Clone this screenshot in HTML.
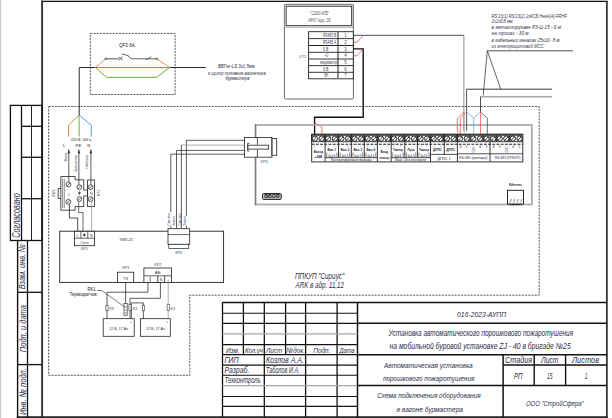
<!DOCTYPE html>
<html><head><meta charset="utf-8"><style>
html,body{margin:0;padding:0;background:#fff;width:612px;height:418px;overflow:hidden}
svg{display:block}
text{font-family:"Liberation Sans",sans-serif}
</style></head><body>
<svg width="612" height="418" viewBox="0 0 612 418">
<rect x="0" y="0" width="1.2" height="418" fill="#c8c8c8"/>
<rect x="41.2" y="0" width="566.4" height="1.05" fill="#bdbdbd"/>
<line x1="41.2" y1="1.55" x2="607.7" y2="1.55" stroke="#111" stroke-width="1.1"/>
<line x1="42.1" y1="0.5" x2="42.1" y2="418" stroke="#333" stroke-width="1.9"/>
<line x1="606.9" y1="1.2" x2="606.9" y2="418" stroke="#222" stroke-width="1.6"/>
<line x1="16.8" y1="417.1" x2="607.6" y2="417.1" stroke="#222" stroke-width="1.8"/>
<rect x="10.4" y="105.4" width="31.7" height="135.1" fill="none" stroke="#111" stroke-width="1.3"/>
<line x1="21.5" y1="105.4" x2="21.5" y2="240.5" stroke="#111" stroke-width="1.3"/>
<line x1="31.5" y1="105.4" x2="31.5" y2="240.5" stroke="#222" stroke-width="1.0"/>
<line x1="21.5" y1="126.3" x2="42.1" y2="126.3" stroke="#111" stroke-width="1.3"/>
<line x1="21.5" y1="157.3" x2="42.1" y2="157.3" stroke="#111" stroke-width="1.3"/>
<line x1="21.5" y1="198.7" x2="42.1" y2="198.7" stroke="#111" stroke-width="1.3"/>
<text x="20.2" y="237.7" font-size="10.2" text-anchor="start" fill="#2a2a46" style="font-style:italic;" transform="rotate(-90 20.2 237.7)" textLength="44.5" lengthAdjust="spacingAndGlyphs">Согласовано</text>
<line x1="17.6" y1="292.3" x2="42.1" y2="292.3" stroke="#111" stroke-width="1.3"/>
<line x1="17.6" y1="364.6" x2="42.1" y2="364.6" stroke="#111" stroke-width="1.3"/>
<line x1="17.6" y1="240.5" x2="17.6" y2="418" stroke="#111" stroke-width="1.4"/>
<line x1="27.5" y1="240.5" x2="27.5" y2="418" stroke="#111" stroke-width="1.3"/>
<text x="25.5" y="289.3" font-size="9.6" text-anchor="start" fill="#2a2a46" style="font-style:italic;" transform="rotate(-90 25.5 289.3)" textLength="45.3" lengthAdjust="spacingAndGlyphs">Взам. инв. №</text>
<text x="25.6" y="352.2" font-size="9.6" text-anchor="start" fill="#2a2a46" style="font-style:italic;" transform="rotate(-90 25.6 352.2)" textLength="47.2" lengthAdjust="spacingAndGlyphs">Подп. и дата</text>
<text x="25.6" y="415" font-size="9.6" text-anchor="start" fill="#2a2a46" style="font-style:italic;" transform="rotate(-90 25.6 415)" textLength="47" lengthAdjust="spacingAndGlyphs">Инв. № подл.</text>
<line x1="222.5" y1="302.5" x2="222.5" y2="417" stroke="#111" stroke-width="1.3"/>
<line x1="264.3" y1="302.5" x2="264.3" y2="417" stroke="#111" stroke-width="1.3"/>
<line x1="305.6" y1="302.5" x2="305.6" y2="417" stroke="#111" stroke-width="1.3"/>
<line x1="337.1" y1="302.5" x2="337.1" y2="417" stroke="#111" stroke-width="1.3"/>
<line x1="243.4" y1="302.5" x2="243.4" y2="354.6" stroke="#111" stroke-width="1.3"/>
<line x1="285.6" y1="302.5" x2="285.6" y2="354.6" stroke="#111" stroke-width="1.3"/>
<line x1="357.5" y1="302.5" x2="357.5" y2="417" stroke="#111" stroke-width="1.5"/>
<line x1="222.5" y1="302.6" x2="606.8" y2="302.6" stroke="#111" stroke-width="1.5"/>
<line x1="222.5" y1="313.2" x2="357.5" y2="313.2" stroke="#111" stroke-width="1.1"/>
<line x1="222.5" y1="323.4" x2="357.5" y2="323.4" stroke="#111" stroke-width="1.1"/>
<line x1="222.5" y1="344.6" x2="357.5" y2="344.6" stroke="#111" stroke-width="1.3"/>
<line x1="222.5" y1="354.6" x2="357.5" y2="354.6" stroke="#111" stroke-width="1.3"/>
<line x1="222.5" y1="365.1" x2="357.5" y2="365.1" stroke="#111" stroke-width="1.1"/>
<line x1="222.5" y1="375.3" x2="357.5" y2="375.3" stroke="#111" stroke-width="1.1"/>
<line x1="222.5" y1="396.5" x2="357.5" y2="396.5" stroke="#111" stroke-width="1.1"/>
<line x1="222.5" y1="406.4" x2="357.5" y2="406.4" stroke="#111" stroke-width="1.1"/>
<line x1="222.5" y1="333.9" x2="357.5" y2="333.9" stroke="#a8a8a8" stroke-width="1.4"/>
<line x1="222.5" y1="385.6" x2="357.5" y2="385.6" stroke="#a8a8a8" stroke-width="1.4"/>
<line x1="357.5" y1="323.2" x2="606.8" y2="323.2" stroke="#111" stroke-width="1.5"/>
<line x1="357.5" y1="354.7" x2="606.8" y2="354.7" stroke="#111" stroke-width="1.5"/>
<line x1="357.5" y1="385.4" x2="606.8" y2="385.4" stroke="#111" stroke-width="1.5"/>
<line x1="503.1" y1="354.7" x2="503.1" y2="417" stroke="#111" stroke-width="1.5"/>
<line x1="503.1" y1="365.0" x2="606.8" y2="365.0" stroke="#111" stroke-width="1.3"/>
<line x1="534.2" y1="354.7" x2="534.2" y2="385.4" stroke="#111" stroke-width="1.4"/>
<line x1="565.6" y1="354.7" x2="565.6" y2="385.4" stroke="#111" stroke-width="1.4"/>
<text x="226" y="352.9" font-size="8" text-anchor="start" fill="#2a2a46" style="font-style:italic;" textLength="13.7" lengthAdjust="spacingAndGlyphs">Изм.</text>
<text x="244.9" y="352.9" font-size="8" text-anchor="start" fill="#2a2a46" style="font-style:italic;" textLength="17.9" lengthAdjust="spacingAndGlyphs">Кол.уч</text>
<text x="266" y="352.9" font-size="8" text-anchor="start" fill="#2a2a46" style="font-style:italic;" textLength="16.2" lengthAdjust="spacingAndGlyphs">Лист</text>
<text x="286.5" y="352.9" font-size="8" text-anchor="start" fill="#2a2a46" style="font-style:italic;" textLength="18.3" lengthAdjust="spacingAndGlyphs">№док.</text>
<text x="313.3" y="352.9" font-size="8" text-anchor="start" fill="#2a2a46" style="font-style:italic;" textLength="17" lengthAdjust="spacingAndGlyphs">Подп.</text>
<text x="339.5" y="352.9" font-size="8" text-anchor="start" fill="#2a2a46" style="font-style:italic;" textLength="15" lengthAdjust="spacingAndGlyphs">Дата</text>
<text x="224.5" y="362.7" font-size="8.8" text-anchor="start" fill="#2a2a46" style="font-style:italic;" textLength="14" lengthAdjust="spacingAndGlyphs">ГИП</text>
<text x="224.5" y="372.9" font-size="8.8" text-anchor="start" fill="#2a2a46" style="font-style:italic;" textLength="24.8" lengthAdjust="spacingAndGlyphs">Разраб.</text>
<text x="224.8" y="382.8" font-size="8.8" text-anchor="start" fill="#2a2a46" style="font-style:italic;" textLength="35.9" lengthAdjust="spacingAndGlyphs">Техконтроль</text>
<text x="266" y="362.7" font-size="8.8" text-anchor="start" fill="#2a2a46" style="font-style:italic;" textLength="38" lengthAdjust="spacingAndGlyphs">Козлов  А.А.</text>
<text x="266" y="372.9" font-size="8.8" text-anchor="start" fill="#2a2a46" style="font-style:italic;" textLength="33.6" lengthAdjust="spacingAndGlyphs">Таболов И.А.</text>
<text x="457.1" y="316.8" font-size="7.4" text-anchor="start" fill="#2a2a46" style="font-style:italic;" textLength="49" lengthAdjust="spacingAndGlyphs">016-2023-АУПП</text>
<text x="388.5" y="336" font-size="8.8" text-anchor="start" fill="#2a2a46" style="font-style:italic;" textLength="184.6" lengthAdjust="spacingAndGlyphs">Установка автоматического порошкового пожаротушения</text>
<text x="389.5" y="349.4" font-size="8.8" text-anchor="start" fill="#2a2a46" style="font-style:italic;" textLength="181.2" lengthAdjust="spacingAndGlyphs">на мобильной буровой  установке ZJ - 40 в бригаде №25</text>
<text x="384" y="367.6" font-size="7.6" text-anchor="start" fill="#2a2a46" style="font-style:italic;" textLength="88.6" lengthAdjust="spacingAndGlyphs">Автоматическая установка</text>
<text x="382.9" y="380.6" font-size="7.6" text-anchor="start" fill="#2a2a46" style="font-style:italic;" textLength="91.5" lengthAdjust="spacingAndGlyphs">порошкового пожаротушения</text>
<text x="377.2" y="398" font-size="7.6" text-anchor="start" fill="#2a2a46" style="font-style:italic;" textLength="103.6" lengthAdjust="spacingAndGlyphs">Схема подключения оборудования</text>
<text x="396.6" y="411.8" font-size="7.6" text-anchor="start" fill="#2a2a46" style="font-style:italic;" textLength="66.4" lengthAdjust="spacingAndGlyphs">в вагоне бурмастера</text>
<text x="505" y="362.8" font-size="8.7" text-anchor="start" fill="#2a2a46" style="font-style:italic;" textLength="27" lengthAdjust="spacingAndGlyphs">Стадия</text>
<text x="541" y="362.8" font-size="8.7" text-anchor="start" fill="#2a2a46" style="font-style:italic;" textLength="17.5" lengthAdjust="spacingAndGlyphs">Лист</text>
<text x="572" y="362.8" font-size="8.7" text-anchor="start" fill="#2a2a46" style="font-style:italic;" textLength="27" lengthAdjust="spacingAndGlyphs">Листов</text>
<text x="514" y="378.9" font-size="8.4" text-anchor="start" fill="#2a2a46" style="font-style:italic;" textLength="8.5" lengthAdjust="spacingAndGlyphs">РП</text>
<text x="547" y="378.9" font-size="8.4" text-anchor="start" fill="#2a2a46" style="font-style:italic;" textLength="5.5" lengthAdjust="spacingAndGlyphs">15</text>
<text x="585" y="378.9" font-size="8.4" text-anchor="start" fill="#2a2a46" style="font-style:italic;" textLength="2.5" lengthAdjust="spacingAndGlyphs">1</text>
<text x="526" y="405.6" font-size="7.6" text-anchor="start" fill="#2a2a46" style="font-style:italic;" textLength="57.6" lengthAdjust="spacingAndGlyphs">ООО "СтройСфера"</text>
<polyline points="48.7,106.5 539.2,106.5 539.2,295.2 189.8,295.2 189.8,375.3 48.7,375.3 48.7,106.5" fill="none" stroke="#333" stroke-width="0.8" stroke-dasharray="2.2,1.0"/>
<rect x="90.3" y="33.4" width="84.8" height="61.1" fill="none" stroke="#333" stroke-width="0.8" stroke-dasharray="2.2,1.0"/>
<polyline points="79.2,115.1 79.2,67.5 95.4,67.5" fill="none" stroke="#111" stroke-width="0.9"/>
<line x1="169.5" y1="67.5" x2="205.9" y2="67.5" stroke="#111" stroke-width="0.9"/>
<line x1="95.4" y1="67.5" x2="169.5" y2="67.5" stroke="#4aa0ea" stroke-width="1.0"/>
<polyline points="95.4,67.5 106.5,77.3 156.7,77.3 169.5,67.5" fill="none" stroke="#6aae3c" stroke-width="1.0"/>
<line x1="95.4" y1="67.5" x2="105.7" y2="58.8" stroke="#d98a4a" stroke-width="0.9"/>
<line x1="156.9" y1="58.8" x2="169.5" y2="67.5" stroke="#d98a4a" stroke-width="0.9"/>
<line x1="105.7" y1="58.8" x2="118.6" y2="58.8" stroke="#222" stroke-width="0.8"/>
<circle cx="105.7" cy="58.8" r="0.9" fill="#fff" stroke="#222" stroke-width="0.6"/>
<circle cx="156.9" cy="58.8" r="0.9" fill="#fff" stroke="#222" stroke-width="0.6"/>
<line x1="118.5" y1="56.9" x2="122.6" y2="60.3" stroke="#222" stroke-width="0.7"/>
<line x1="118.5" y1="60.3" x2="122.6" y2="56.9" stroke="#222" stroke-width="0.7"/>
<polyline points="121.6,53.7 123,54.9 124.6,53.9 126,55.7 127.6,55.0 129.2,57.3 131.9,58.8 156,58.8" fill="none" stroke="#222" stroke-width="0.7"/>
<line x1="145.8" y1="59.8" x2="151.4" y2="56.7" stroke="#222" stroke-width="0.6"/>
<text x="119" y="47.2" font-size="5.8" text-anchor="start" fill="#222" style="" textLength="15.8" lengthAdjust="spacingAndGlyphs">QF3 6A</text>
<text x="218" y="67.6" font-size="5" text-anchor="start" fill="#2a2a46" style="font-style:italic;" textLength="36.7" lengthAdjust="spacingAndGlyphs">ВВГнг-LS 3х1,5мм</text>
<text x="208" y="74.6" font-size="5" text-anchor="start" fill="#2a2a46" style="font-style:italic;" textLength="57.7" lengthAdjust="spacingAndGlyphs">к щиту питания вагончика</text>
<text x="225.5" y="80.3" font-size="5" text-anchor="start" fill="#2a2a46" style="font-style:italic;" textLength="24" lengthAdjust="spacingAndGlyphs">бурмастера</text>
<polyline points="79.1,115.1 68.6,125.2 68.6,136.7" fill="none" stroke="#d98a4a" stroke-width="1.0"/>
<line x1="79.1" y1="115.1" x2="79.1" y2="136.7" stroke="#6aae3c" stroke-width="1.0"/>
<polyline points="79.1,115.1 91.3,125.2 91.3,136.7" fill="none" stroke="#4aa0ea" stroke-width="1.0"/>
<text x="70.7" y="140.8" font-size="4.2" text-anchor="start" fill="#222" style="" textLength="20.4" lengthAdjust="spacingAndGlyphs">220 В, 50Гц</text>
<text x="62.9" y="146.8" font-size="4.2" text-anchor="start" fill="#222" style="">L</text>
<text x="75.6" y="146.8" font-size="4.2" text-anchor="start" fill="#222" style="">PE</text>
<text x="87.3" y="146.8" font-size="4.2" text-anchor="start" fill="#222" style="">N</text>
<polygon points="67.89999999999999,153.2 68.8,149.2 69.7,153.2" fill="#111" stroke="#111" stroke-width="0.3"/>
<polygon points="78.0,153.2 78.9,149.2 79.80000000000001,153.2" fill="#111" stroke="#111" stroke-width="0.3"/>
<polygon points="90.0,153.2 90.9,149.2 91.80000000000001,153.2" fill="#111" stroke="#111" stroke-width="0.3"/>
<line x1="68.8" y1="152" x2="68.8" y2="182" stroke="#333" stroke-width="0.8"/>
<line x1="78.9" y1="152" x2="78.9" y2="184.8" stroke="#333" stroke-width="0.8"/>
<line x1="90.9" y1="152" x2="90.9" y2="184.8" stroke="#333" stroke-width="0.8"/>
<text x="67.2" y="161.5" font-size="3.6" text-anchor="start" fill="#333" style="" transform="rotate(-90 67.2 161.5)" textLength="8.5" lengthAdjust="spacingAndGlyphs">Фаза</text>
<text x="76.6" y="172" font-size="3.6" text-anchor="start" fill="#333" style="" transform="rotate(-90 76.6 172)" textLength="17" lengthAdjust="spacingAndGlyphs">Заземление</text>
<text x="88.2" y="168.5" font-size="3.6" text-anchor="start" fill="#333" style="" transform="rotate(-90 88.2 168.5)" textLength="13.5" lengthAdjust="spacingAndGlyphs">Нейтраль</text>
<polygon points="60.8,176.5 75.1,176.5 75.1,179.8 83.7,179.8 83.7,190 87.6,190 87.6,196 83.7,196 83.7,206.6 75.1,206.6 75.1,210.2 60.8,210.2" fill="none" stroke="#222" stroke-width="0.8"/>
<polyline points="60.8,188.5 58.2,188.5 58.2,198.5 60.8,198.5" fill="none" stroke="#222" stroke-width="0.8"/>
<line x1="62.6" y1="178.6" x2="62.6" y2="208" stroke="#444" stroke-width="0.6"/>
<line x1="64.3" y1="178.6" x2="64.3" y2="208" stroke="#444" stroke-width="0.6"/>
<rect x="87.6" y="180" width="6.9" height="26.6" fill="none" stroke="#222" stroke-width="0.8"/>
<circle cx="68.4" cy="184.4" r="2.4" fill="#fff" stroke="#222" stroke-width="0.75"/>
<line x1="66.91" y1="185.89" x2="69.89" y2="182.91" stroke="#222" stroke-width="0.75"/>
<circle cx="68.4" cy="201.8" r="2.4" fill="#fff" stroke="#222" stroke-width="0.75"/>
<line x1="66.91" y1="203.29" x2="69.89" y2="200.31" stroke="#222" stroke-width="0.75"/>
<circle cx="79.4" cy="187.2" r="2.4" fill="#fff" stroke="#222" stroke-width="0.75"/>
<line x1="77.91" y1="188.69" x2="80.89" y2="185.71" stroke="#222" stroke-width="0.75"/>
<circle cx="79.4" cy="199.1" r="2.4" fill="#fff" stroke="#222" stroke-width="0.75"/>
<line x1="77.91" y1="200.59" x2="80.89" y2="197.61" stroke="#222" stroke-width="0.75"/>
<circle cx="90.6" cy="187.2" r="2.4" fill="#fff" stroke="#222" stroke-width="0.75"/>
<line x1="89.11" y1="188.69" x2="92.09" y2="185.71" stroke="#222" stroke-width="0.75"/>
<circle cx="90.6" cy="199.1" r="2.4" fill="#fff" stroke="#222" stroke-width="0.75"/>
<line x1="89.11" y1="200.59" x2="92.09" y2="197.61" stroke="#222" stroke-width="0.75"/>
<polygon points="78.2,192.6 80.6,192.6 79.4,194.6" fill="#333" stroke="#333" stroke-width="0.4"/>
<line x1="79.4" y1="191.2" x2="79.4" y2="192.6" stroke="#333" stroke-width="0.6"/>
<text x="68.3" y="195.5" font-size="3.6" text-anchor="start" fill="#333" style="">L</text>
<text x="89.9" y="194.5" font-size="3.6" text-anchor="start" fill="#333" style="">N</text>
<text x="54.8" y="196.5" font-size="4" text-anchor="start" fill="#334" style="" transform="rotate(-90 54.8 196.5)" textLength="7" lengthAdjust="spacingAndGlyphs">FU1</text>
<text x="99.5" y="196.5" font-size="4" text-anchor="start" fill="#334" style="" transform="rotate(-90 99.5 196.5)" textLength="7" lengthAdjust="spacingAndGlyphs">XT1</text>
<polyline points="69.4,204.4 69.4,218 77.7,218 77.7,231.3" fill="none" stroke="#222" stroke-width="0.8"/>
<polyline points="78.7,201.5 78.7,212.6 83,212.6 83,231.3" fill="none" stroke="#444" stroke-width="0.8"/>
<line x1="91.6" y1="201.5" x2="91.6" y2="231.3" stroke="#9a9a9a" stroke-width="0.8"/>
<rect x="59.7" y="231.2" width="163.9" height="51.2" fill="none" stroke="#222" stroke-width="0.9"/>
<rect x="74.4" y="231.3" width="20.1" height="14.4" fill="#fff" stroke="#222" stroke-width="0.8"/>
<line x1="74.4" y1="238.2" x2="94.5" y2="238.2" stroke="#222" stroke-width="0.7"/>
<line x1="80.9" y1="231.3" x2="80.9" y2="238.2" stroke="#222" stroke-width="0.7"/>
<line x1="87.8" y1="231.3" x2="87.8" y2="238.2" stroke="#222" stroke-width="0.7"/>
<text x="77.6" y="237" font-size="3.6" text-anchor="middle" fill="#333" style="">L</text>
<circle cx="84.4" cy="235" r="1.2" fill="#333"/>
<text x="91.2" y="237" font-size="3.6" text-anchor="middle" fill="#333" style="">N</text>
<text x="84.4" y="243.6" font-size="3.8" text-anchor="middle" fill="#333" style="">Сеть</text>
<text x="84.4" y="250.3" font-size="3.8" text-anchor="middle" fill="#345" style="">XP1</text>
<text x="119" y="240.6" font-size="4.2" text-anchor="start" fill="#333" style="" textLength="14.5" lengthAdjust="spacingAndGlyphs">"КМП-24"</text>
<rect x="168" y="228.7" width="21.7" height="15.6" fill="#fff" stroke="#222" stroke-width="0.8"/>
<line x1="168" y1="234.6" x2="189.7" y2="234.6" stroke="#222" stroke-width="0.7"/>
<rect x="168.8" y="244.3" width="19.9" height="4.2" fill="#fff" stroke="#222" stroke-width="0.7"/>
<text x="178.6" y="254" font-size="3.8" text-anchor="middle" fill="#345" style="">XP5</text>
<line x1="186.4" y1="140.3" x2="245" y2="140.3" stroke="#333" stroke-width="0.8"/>
<line x1="186.4" y1="140.3" x2="186.4" y2="216" stroke="#333" stroke-width="0.8"/>
<line x1="186.4" y1="226" x2="186.4" y2="228.7" stroke="#333" stroke-width="0.8"/>
<line x1="181.4" y1="145.1" x2="245" y2="145.1" stroke="#9a9a9a" stroke-width="0.8"/>
<line x1="181.4" y1="145.1" x2="181.4" y2="228.7" stroke="#333" stroke-width="0.8"/>
<line x1="176.5" y1="150.4" x2="245" y2="150.4" stroke="#333" stroke-width="0.8"/>
<line x1="176.5" y1="150.4" x2="176.5" y2="228.7" stroke="#333" stroke-width="0.8"/>
<line x1="170.8" y1="154.2" x2="245" y2="154.2" stroke="#333" stroke-width="0.8"/>
<line x1="170.8" y1="154.2" x2="170.8" y2="212.2" stroke="#333" stroke-width="0.8"/>
<line x1="170.8" y1="226" x2="170.8" y2="228.7" stroke="#333" stroke-width="0.8"/>
<text x="170" y="226" font-size="3.4" text-anchor="start" fill="#345" style="" transform="rotate(-90 170 226)" textLength="13" lengthAdjust="spacingAndGlyphs">Сигнал</text>
<text x="175.3" y="226" font-size="3.4" text-anchor="start" fill="#345" style="" transform="rotate(-90 175.3 226)" textLength="10" lengthAdjust="spacingAndGlyphs">Земля</text>
<text x="180.6" y="226" font-size="3.4" text-anchor="start" fill="#345" style="" transform="rotate(-90 180.6 226)" textLength="13" lengthAdjust="spacingAndGlyphs">Сигнал</text>
<text x="185.8" y="226" font-size="3.4" text-anchor="start" fill="#345" style="" transform="rotate(-90 185.8 226)" textLength="10" lengthAdjust="spacingAndGlyphs">Земля</text>
<rect x="117.4" y="272.2" width="16.3" height="10.2" fill="#fff" stroke="#222" stroke-width="0.8"/>
<text x="125.5" y="279.6" font-size="4.4" text-anchor="middle" fill="#333" style="">T3</text>
<text x="125.5" y="269.3" font-size="3.8" text-anchor="middle" fill="#345" style="">XP3</text>
<rect x="143.9" y="268" width="27.6" height="14.4" fill="#fff" stroke="#222" stroke-width="0.8"/>
<line x1="143.9" y1="275.8" x2="171.5" y2="275.8" stroke="#555" stroke-width="0.9"/>
<line x1="150.3" y1="275.8" x2="150.3" y2="282.4" stroke="#999" stroke-width="1.2"/>
<line x1="157.8" y1="275.8" x2="157.8" y2="282.4" stroke="#222" stroke-width="0.8"/>
<line x1="164.6" y1="275.8" x2="164.6" y2="282.4" stroke="#222" stroke-width="0.8"/>
<text x="157.7" y="274.2" font-size="4.4" text-anchor="middle" fill="#333" style="">АБ</text>
<text x="157.7" y="265.8" font-size="3.8" text-anchor="middle" fill="#345" style="">XP2</text>
<text x="147.3" y="280.6" font-size="3.8" text-anchor="middle" fill="#333" style="">-</text>
<text x="161.2" y="280.6" font-size="4" text-anchor="middle" fill="#333" style="">Б</text>
<text x="168.1" y="280.6" font-size="4" text-anchor="middle" fill="#333" style="">+</text>
<polyline points="147.9,282.4 147.9,292.2 107,292.2 107,318.7" fill="none" stroke="#333" stroke-width="0.8"/>
<polyline points="160.4,282.4 160.4,298.3 130,298.3 130,318.7" fill="none" stroke="#333" stroke-width="0.8"/>
<polyline points="131.3,318.7 131.3,302.9 143.4,302.9 143.4,318.7" fill="none" stroke="#333" stroke-width="0.8"/>
<line x1="168.2" y1="282.4" x2="168.2" y2="318.7" stroke="#9a9a9a" stroke-width="0.8"/>
<line x1="125.6" y1="282.4" x2="125.6" y2="303.5" stroke="#333" stroke-width="0.8"/>
<rect x="105.9" y="305.2" width="2.2" height="5.6" fill="#fff" stroke="#333" stroke-width="0.6"/>
<rect x="128.9" y="304.7" width="2.2" height="5.6" fill="#fff" stroke="#333" stroke-width="0.6"/>
<rect x="142.3" y="305.2" width="2.2" height="5.6" fill="#fff" stroke="#333" stroke-width="0.6"/>
<rect x="167.1" y="304.7" width="2.2" height="5.6" fill="#fff" stroke="#333" stroke-width="0.6"/>
<text x="109.2" y="309.8" font-size="3.8" text-anchor="start" fill="#333" style="">X3</text>
<text x="132.6" y="309.8" font-size="3.8" text-anchor="start" fill="#333" style="">X2</text>
<text x="170.6" y="309.8" font-size="3.8" text-anchor="start" fill="#333" style="">X1</text>
<rect x="124" y="303.5" width="3.2" height="11.8" fill="#fff" stroke="#333" stroke-width="0.7"/>
<line x1="124.5" y1="307" x2="126.7" y2="307" stroke="#333" stroke-width="0.6"/>
<line x1="124.5" y1="310" x2="126.7" y2="310" stroke="#333" stroke-width="0.6"/>
<line x1="124.5" y1="313" x2="126.7" y2="313" stroke="#333" stroke-width="0.6"/>
<polyline points="97.2,290.5 101.7,290.5 124.4,306.8" fill="none" stroke="#222" stroke-width="0.6"/>
<text x="95.5" y="291.4" font-size="5.8" text-anchor="end" fill="#222" style="" textLength="8.1" lengthAdjust="spacingAndGlyphs">RK1</text>
<text x="96.8" y="296.3" font-size="5.8" text-anchor="end" fill="#222" style="" textLength="27.4" lengthAdjust="spacingAndGlyphs">Термодатчик</text>
<rect x="103.2" y="318.7" width="31.0" height="17.6" fill="#fff" stroke="#222" stroke-width="0.8"/>
<text x="118.69999999999999" y="329.5" font-size="4" text-anchor="middle" fill="#333" style="" textLength="19" lengthAdjust="spacingAndGlyphs">12 В, 17 Ач</text>
<text x="106.7" y="322.8" font-size="3.6" text-anchor="middle" fill="#333" style="">-</text>
<text x="131.0" y="322.8" font-size="3.6" text-anchor="middle" fill="#333" style="">+</text>
<rect x="140.5" y="318.7" width="29.8" height="17.6" fill="#fff" stroke="#222" stroke-width="0.8"/>
<text x="155.4" y="329.5" font-size="4" text-anchor="middle" fill="#333" style="" textLength="19" lengthAdjust="spacingAndGlyphs">12 В, 17 Ач</text>
<text x="144.0" y="322.8" font-size="3.6" text-anchor="middle" fill="#333" style="">-</text>
<text x="167.10000000000002" y="322.8" font-size="3.6" text-anchor="middle" fill="#333" style="">+</text>
<rect x="284.4" y="4.4" width="69.0" height="94.6" fill="none" stroke="#555" stroke-width="0.9" rx="1.5"/>
<rect x="284.6" y="4.7" width="68.5" height="22.5" fill="#d4d4d4" stroke="#777" stroke-width="0.5"/>
<rect x="286.2" y="6.3" width="65.4" height="19.1" fill="#fff" stroke="#333" stroke-width="0.8"/>
<text x="319.6" y="14.8" font-size="6" text-anchor="middle" fill="#555" style="" textLength="19" lengthAdjust="spacingAndGlyphs">"С2000-КПБ"</text>
<text x="319.2" y="21.7" font-size="6" text-anchor="middle" fill="#555" style="" textLength="22" lengthAdjust="spacingAndGlyphs">АРК7 адр. 18</text>
<rect x="308.6" y="31.7" width="44.7" height="47.1" fill="#fff" stroke="#222" stroke-width="0.9"/>
<line x1="338" y1="31.7" x2="338" y2="78.8" stroke="#777" stroke-width="1.6"/>
<line x1="308.6" y1="38.6" x2="353.3" y2="38.6" stroke="#222" stroke-width="0.9"/>
<line x1="308.6" y1="45.5" x2="353.3" y2="45.5" stroke="#222" stroke-width="1.2"/>
<line x1="308.6" y1="52.3" x2="353.3" y2="52.3" stroke="#222" stroke-width="0.9"/>
<line x1="308.6" y1="59.0" x2="353.3" y2="59.0" stroke="#222" stroke-width="0.9"/>
<line x1="308.6" y1="65.6" x2="353.3" y2="65.6" stroke="#222" stroke-width="0.9"/>
<line x1="308.6" y1="72.3" x2="353.3" y2="72.3" stroke="#222" stroke-width="0.9"/>
<text x="322.9" y="36.7" font-size="4.5" text-anchor="start" fill="#3a3a55" style="" textLength="13.3" lengthAdjust="spacingAndGlyphs">RS485 B</text>
<text x="345.4" y="36.7" font-size="4.5" text-anchor="middle" fill="#555" style="">1</text>
<text x="322.9" y="43.6" font-size="4.5" text-anchor="start" fill="#3a3a55" style="" textLength="13.3" lengthAdjust="spacingAndGlyphs">RS485 A</text>
<text x="345.4" y="43.6" font-size="4.5" text-anchor="middle" fill="#555" style="">2</text>
<text x="322.9" y="50.5" font-size="4.5" text-anchor="start" fill="#3a3a55" style="" textLength="5.4" lengthAdjust="spacingAndGlyphs">0 В</text>
<text x="345.4" y="50.5" font-size="4.5" text-anchor="middle" fill="#555" style="">3</text>
<text x="324.7" y="57.3" font-size="4.5" text-anchor="start" fill="#3a3a55" style="" textLength="3.6" lengthAdjust="spacingAndGlyphs">+U</text>
<text x="345.4" y="57.3" font-size="4.5" text-anchor="middle" fill="#555" style="">4</text>
<text x="320" y="64.0" font-size="4.5" text-anchor="start" fill="#3a3a55" style="" textLength="17.5" lengthAdjust="spacingAndGlyphs">индикатор</text>
<text x="345.4" y="64.0" font-size="4.5" text-anchor="middle" fill="#555" style="">5</text>
<text x="322.9" y="70.6" font-size="4.5" text-anchor="start" fill="#3a3a55" style="" textLength="5.4" lengthAdjust="spacingAndGlyphs">0 В</text>
<text x="345.4" y="70.6" font-size="4.5" text-anchor="middle" fill="#555" style="">6</text>
<text x="324.5" y="77.3" font-size="4.5" text-anchor="start" fill="#3a3a55" style="" textLength="3.8" lengthAdjust="spacingAndGlyphs">ВН</text>
<text x="345.4" y="77.3" font-size="4.5" text-anchor="middle" fill="#555" style="">7</text>
<text x="299" y="57.5" font-size="4" text-anchor="start" fill="#35609a" style="">ХТ1</text>
<line x1="353.3" y1="35.3" x2="464" y2="35.3" stroke="#222" stroke-width="0.8"/>
<line x1="463.9" y1="35.3" x2="463.9" y2="131" stroke="#808080" stroke-width="0.9"/>
<polyline points="353.3,42.2 357,42.2 363.4,35.3" fill="none" stroke="#ee3b3b" stroke-width="0.7"/>
<polyline points="353.3,48.9 363.2,48.9 363.2,117.2 314.6,117.2 314.6,134.2" fill="none" stroke="#111" stroke-width="1.4"/>
<polyline points="353.3,55.8 357,55.8 363.2,48.9" fill="none" stroke="#ee3b3b" stroke-width="0.7"/>
<polyline points="314.6,123 321.9,127 321.9,134.2" fill="none" stroke="#ee3b3b" stroke-width="0.7"/>
<rect x="255.6" y="125" width="276.2" height="79.5" fill="none" stroke="#a8a8a8" stroke-width="1.7"/>
<line x1="255.5" y1="124.2" x2="255.5" y2="205.2" stroke="#7a7a7a" stroke-width="1.2"/>
<rect x="244.5" y="137.4" width="27.4" height="19.8" fill="#fff" stroke="#222" stroke-width="0.8"/>
<line x1="257.4" y1="137.4" x2="257.4" y2="144.8" stroke="#222" stroke-width="0.8"/>
<line x1="257.4" y1="149.5" x2="257.4" y2="157.2" stroke="#222" stroke-width="0.8"/>
<rect x="271.9" y="138.4" width="4.8" height="16.9" fill="#fff" stroke="#222" stroke-width="0.8"/>
<line x1="272.5" y1="138.4" x2="272.5" y2="155.3" stroke="#666" stroke-width="0.6"/>
<rect x="247.9" y="145.2" width="20.7" height="3.9" fill="#fff" stroke="#222" stroke-width="0.8"/>
<polyline points="249.5,143.3 247.6,143.3 247.6,151 249.5,151" fill="none" stroke="#333" stroke-width="0.8"/>
<text x="264" y="162.7" font-size="3.9" text-anchor="middle" fill="#35507a" style="">XP3</text>
<rect x="262.5" y="193.6" width="18.8" height="5.8" fill="#c8c8c8" stroke="#1a1a1a" stroke-width="1.0" rx="1"/>
<text x="271.9" y="198.3" font-size="4.6" text-anchor="middle" fill="#111" style="font-weight:bold;" textLength="15.5" lengthAdjust="spacingAndGlyphs">ВБОЯ</text>
<rect x="507.5" y="190.3" width="16.0" height="13.7" fill="#fff" stroke="#111" stroke-width="0.9"/>
<text x="515.5" y="186.3" font-size="3.9" text-anchor="middle" fill="#223" style="font-weight:bold;" textLength="12.5" lengthAdjust="spacingAndGlyphs">Ethernet</text>
<line x1="510.0" y1="202.5" x2="511.5" y2="199" stroke="#556" stroke-width="0.7"/>
<line x1="513.5" y1="202.5" x2="515.0" y2="199" stroke="#556" stroke-width="0.7"/>
<line x1="517.0" y1="202.5" x2="518.5" y2="199" stroke="#556" stroke-width="0.7"/>
<line x1="520.5" y1="202.5" x2="522.0" y2="199" stroke="#556" stroke-width="0.7"/>
<line x1="509.5" y1="204.6" x2="521.5" y2="204.6" stroke="#333" stroke-width="1.2"/>
<rect x="311.7" y="134.2" width="211.1" height="27.7" fill="#fff" stroke="#222" stroke-width="0.9"/>
<rect x="311.7" y="134.2" width="211.1" height="7.7" fill="#7a7a7a" stroke="#333" stroke-width="0.6"/>
<line x1="311.7" y1="134.7" x2="522.8" y2="134.7" stroke="#333" stroke-width="1.1"/>
<rect x="317.70" y="136" width="1.2" height="5" fill="#fff"/>
<rect x="316.90" y="136" width="2.8" height="0.8" fill="#fff"/>
<rect x="316.90" y="140.2" width="2.8" height="0.8" fill="#fff"/>
<line x1="311.7" y1="134.2" x2="311.7" y2="141.9" stroke="#222" stroke-width="0.8"/>
<rect x="330.89" y="136" width="1.2" height="5" fill="#fff"/>
<rect x="330.09" y="136" width="2.8" height="0.8" fill="#fff"/>
<rect x="330.09" y="140.2" width="2.8" height="0.8" fill="#fff"/>
<line x1="324.89" y1="134.2" x2="324.89" y2="141.9" stroke="#222" stroke-width="0.8"/>
<rect x="344.08" y="136" width="1.2" height="5" fill="#fff"/>
<rect x="343.28" y="136" width="2.8" height="0.8" fill="#fff"/>
<rect x="343.28" y="140.2" width="2.8" height="0.8" fill="#fff"/>
<line x1="338.09" y1="134.2" x2="338.09" y2="141.9" stroke="#222" stroke-width="0.8"/>
<rect x="357.28" y="136" width="1.2" height="5" fill="#fff"/>
<rect x="356.48" y="136" width="2.8" height="0.8" fill="#fff"/>
<rect x="356.48" y="140.2" width="2.8" height="0.8" fill="#fff"/>
<line x1="351.28" y1="134.2" x2="351.28" y2="141.9" stroke="#222" stroke-width="0.8"/>
<rect x="370.47" y="136" width="1.2" height="5" fill="#fff"/>
<rect x="369.67" y="136" width="2.8" height="0.8" fill="#fff"/>
<rect x="369.67" y="140.2" width="2.8" height="0.8" fill="#fff"/>
<line x1="364.47" y1="134.2" x2="364.47" y2="141.9" stroke="#222" stroke-width="0.8"/>
<rect x="383.67" y="136" width="1.2" height="5" fill="#fff"/>
<rect x="382.87" y="136" width="2.8" height="0.8" fill="#fff"/>
<rect x="382.87" y="140.2" width="2.8" height="0.8" fill="#fff"/>
<line x1="377.67" y1="134.2" x2="377.67" y2="141.9" stroke="#222" stroke-width="0.8"/>
<rect x="396.86" y="136" width="1.2" height="5" fill="#fff"/>
<rect x="396.06" y="136" width="2.8" height="0.8" fill="#fff"/>
<rect x="396.06" y="140.2" width="2.8" height="0.8" fill="#fff"/>
<line x1="390.86" y1="134.2" x2="390.86" y2="141.9" stroke="#222" stroke-width="0.8"/>
<rect x="410.05" y="136" width="1.2" height="5" fill="#fff"/>
<rect x="409.25" y="136" width="2.8" height="0.8" fill="#fff"/>
<rect x="409.25" y="140.2" width="2.8" height="0.8" fill="#fff"/>
<line x1="404.06" y1="134.2" x2="404.06" y2="141.9" stroke="#222" stroke-width="0.8"/>
<rect x="423.25" y="136" width="1.2" height="5" fill="#fff"/>
<rect x="422.45" y="136" width="2.8" height="0.8" fill="#fff"/>
<rect x="422.45" y="140.2" width="2.8" height="0.8" fill="#fff"/>
<line x1="417.25" y1="134.2" x2="417.25" y2="141.9" stroke="#222" stroke-width="0.8"/>
<rect x="436.44" y="136" width="1.2" height="5" fill="#fff"/>
<rect x="435.64" y="136" width="2.8" height="0.8" fill="#fff"/>
<rect x="435.64" y="140.2" width="2.8" height="0.8" fill="#fff"/>
<line x1="430.44" y1="134.2" x2="430.44" y2="141.9" stroke="#222" stroke-width="0.8"/>
<rect x="449.63" y="136" width="1.2" height="5" fill="#fff"/>
<rect x="448.83" y="136" width="2.8" height="0.8" fill="#fff"/>
<rect x="448.83" y="140.2" width="2.8" height="0.8" fill="#fff"/>
<line x1="443.64" y1="134.2" x2="443.64" y2="141.9" stroke="#222" stroke-width="0.8"/>
<rect x="462.83" y="136" width="1.2" height="5" fill="#fff"/>
<rect x="462.03" y="136" width="2.8" height="0.8" fill="#fff"/>
<rect x="462.03" y="140.2" width="2.8" height="0.8" fill="#fff"/>
<line x1="456.83" y1="134.2" x2="456.83" y2="141.9" stroke="#222" stroke-width="0.8"/>
<rect x="476.02" y="136" width="1.2" height="5" fill="#fff"/>
<rect x="475.22" y="136" width="2.8" height="0.8" fill="#fff"/>
<rect x="475.22" y="140.2" width="2.8" height="0.8" fill="#fff"/>
<line x1="470.02" y1="134.2" x2="470.02" y2="141.9" stroke="#222" stroke-width="0.8"/>
<rect x="489.22" y="136" width="1.2" height="5" fill="#fff"/>
<rect x="488.42" y="136" width="2.8" height="0.8" fill="#fff"/>
<rect x="488.42" y="140.2" width="2.8" height="0.8" fill="#fff"/>
<line x1="483.22" y1="134.2" x2="483.22" y2="141.9" stroke="#222" stroke-width="0.8"/>
<rect x="502.41" y="136" width="1.2" height="5" fill="#fff"/>
<rect x="501.61" y="136" width="2.8" height="0.8" fill="#fff"/>
<rect x="501.61" y="140.2" width="2.8" height="0.8" fill="#fff"/>
<line x1="496.41" y1="134.2" x2="496.41" y2="141.9" stroke="#222" stroke-width="0.8"/>
<rect x="515.60" y="136" width="1.2" height="5" fill="#fff"/>
<rect x="514.80" y="136" width="2.8" height="0.8" fill="#fff"/>
<rect x="514.80" y="140.2" width="2.8" height="0.8" fill="#fff"/>
<line x1="509.61" y1="134.2" x2="509.61" y2="141.9" stroke="#222" stroke-width="0.8"/>
<circle cx="315.0" cy="138.6" r="2.6" fill="#fff" stroke="#111" stroke-width="0.85"/>
<line x1="313.39" y1="140.21" x2="316.61" y2="136.99" stroke="#111" stroke-width="0.85"/>
<circle cx="321.6" cy="138.6" r="2.6" fill="#fff" stroke="#111" stroke-width="0.85"/>
<line x1="319.99" y1="140.21" x2="323.21" y2="136.99" stroke="#111" stroke-width="0.85"/>
<circle cx="328.19" cy="138.6" r="2.6" fill="#fff" stroke="#111" stroke-width="0.85"/>
<line x1="326.58" y1="140.21" x2="329.8" y2="136.99" stroke="#111" stroke-width="0.85"/>
<circle cx="334.79" cy="138.6" r="2.6" fill="#fff" stroke="#111" stroke-width="0.85"/>
<line x1="333.18" y1="140.21" x2="336.4" y2="136.99" stroke="#111" stroke-width="0.85"/>
<circle cx="341.39" cy="138.6" r="2.6" fill="#fff" stroke="#111" stroke-width="0.85"/>
<line x1="339.78" y1="140.21" x2="343.0" y2="136.99" stroke="#111" stroke-width="0.85"/>
<circle cx="347.98" cy="138.6" r="2.6" fill="#fff" stroke="#111" stroke-width="0.85"/>
<line x1="346.37" y1="140.21" x2="349.59" y2="136.99" stroke="#111" stroke-width="0.85"/>
<circle cx="354.58" cy="138.6" r="2.6" fill="#fff" stroke="#111" stroke-width="0.85"/>
<line x1="352.97" y1="140.21" x2="356.19" y2="136.99" stroke="#111" stroke-width="0.85"/>
<circle cx="361.18" cy="138.6" r="2.6" fill="#fff" stroke="#111" stroke-width="0.85"/>
<line x1="359.57" y1="140.21" x2="362.79" y2="136.99" stroke="#111" stroke-width="0.85"/>
<circle cx="367.77" cy="138.6" r="2.6" fill="#fff" stroke="#111" stroke-width="0.85"/>
<line x1="366.16" y1="140.21" x2="369.38" y2="136.99" stroke="#111" stroke-width="0.85"/>
<circle cx="374.37" cy="138.6" r="2.6" fill="#fff" stroke="#111" stroke-width="0.85"/>
<line x1="372.76" y1="140.21" x2="375.98" y2="136.99" stroke="#111" stroke-width="0.85"/>
<circle cx="380.97" cy="138.6" r="2.6" fill="#fff" stroke="#111" stroke-width="0.85"/>
<line x1="379.36" y1="140.21" x2="382.58" y2="136.99" stroke="#111" stroke-width="0.85"/>
<circle cx="387.56" cy="138.6" r="2.6" fill="#fff" stroke="#111" stroke-width="0.85"/>
<line x1="385.95" y1="140.21" x2="389.17" y2="136.99" stroke="#111" stroke-width="0.85"/>
<circle cx="394.16" cy="138.6" r="2.6" fill="#fff" stroke="#111" stroke-width="0.85"/>
<line x1="392.55" y1="140.21" x2="395.77" y2="136.99" stroke="#111" stroke-width="0.85"/>
<circle cx="400.76" cy="138.6" r="2.6" fill="#fff" stroke="#111" stroke-width="0.85"/>
<line x1="399.15" y1="140.21" x2="402.37" y2="136.99" stroke="#111" stroke-width="0.85"/>
<circle cx="407.35" cy="138.6" r="2.6" fill="#fff" stroke="#111" stroke-width="0.85"/>
<line x1="405.74" y1="140.21" x2="408.96" y2="136.99" stroke="#111" stroke-width="0.85"/>
<circle cx="413.95" cy="138.6" r="2.6" fill="#fff" stroke="#111" stroke-width="0.85"/>
<line x1="412.34" y1="140.21" x2="415.56" y2="136.99" stroke="#111" stroke-width="0.85"/>
<circle cx="420.55" cy="138.6" r="2.6" fill="#fff" stroke="#111" stroke-width="0.85"/>
<line x1="418.94" y1="140.21" x2="422.16" y2="136.99" stroke="#111" stroke-width="0.85"/>
<circle cx="427.15" cy="138.6" r="2.6" fill="#fff" stroke="#111" stroke-width="0.85"/>
<line x1="425.54" y1="140.21" x2="428.76" y2="136.99" stroke="#111" stroke-width="0.85"/>
<circle cx="433.74" cy="138.6" r="2.6" fill="#fff" stroke="#111" stroke-width="0.85"/>
<line x1="432.13" y1="140.21" x2="435.35" y2="136.99" stroke="#111" stroke-width="0.85"/>
<circle cx="440.34" cy="138.6" r="2.6" fill="#fff" stroke="#111" stroke-width="0.85"/>
<line x1="438.73" y1="140.21" x2="441.95" y2="136.99" stroke="#111" stroke-width="0.85"/>
<circle cx="446.94" cy="138.6" r="2.6" fill="#fff" stroke="#111" stroke-width="0.85"/>
<line x1="445.33" y1="140.21" x2="448.55" y2="136.99" stroke="#111" stroke-width="0.85"/>
<circle cx="453.53" cy="138.6" r="2.6" fill="#fff" stroke="#111" stroke-width="0.85"/>
<line x1="451.92" y1="140.21" x2="455.14" y2="136.99" stroke="#111" stroke-width="0.85"/>
<circle cx="460.13" cy="138.6" r="2.6" fill="#fff" stroke="#111" stroke-width="0.85"/>
<line x1="458.52" y1="140.21" x2="461.74" y2="136.99" stroke="#111" stroke-width="0.85"/>
<circle cx="466.73" cy="138.6" r="2.6" fill="#fff" stroke="#111" stroke-width="0.85"/>
<line x1="465.12" y1="140.21" x2="468.34" y2="136.99" stroke="#111" stroke-width="0.85"/>
<circle cx="473.32" cy="138.6" r="2.6" fill="#fff" stroke="#111" stroke-width="0.85"/>
<line x1="471.71" y1="140.21" x2="474.93" y2="136.99" stroke="#111" stroke-width="0.85"/>
<circle cx="479.92" cy="138.6" r="2.6" fill="#fff" stroke="#111" stroke-width="0.85"/>
<line x1="478.31" y1="140.21" x2="481.53" y2="136.99" stroke="#111" stroke-width="0.85"/>
<circle cx="486.52" cy="138.6" r="2.6" fill="#fff" stroke="#111" stroke-width="0.85"/>
<line x1="484.91" y1="140.21" x2="488.13" y2="136.99" stroke="#111" stroke-width="0.85"/>
<circle cx="493.11" cy="138.6" r="2.6" fill="#fff" stroke="#111" stroke-width="0.85"/>
<line x1="491.5" y1="140.21" x2="494.72" y2="136.99" stroke="#111" stroke-width="0.85"/>
<circle cx="499.71" cy="138.6" r="2.6" fill="#fff" stroke="#111" stroke-width="0.85"/>
<line x1="498.1" y1="140.21" x2="501.32" y2="136.99" stroke="#111" stroke-width="0.85"/>
<circle cx="506.31" cy="138.6" r="2.6" fill="#fff" stroke="#111" stroke-width="0.85"/>
<line x1="504.7" y1="140.21" x2="507.92" y2="136.99" stroke="#111" stroke-width="0.85"/>
<circle cx="512.9" cy="138.6" r="2.6" fill="#fff" stroke="#111" stroke-width="0.85"/>
<line x1="511.29" y1="140.21" x2="514.51" y2="136.99" stroke="#111" stroke-width="0.85"/>
<circle cx="519.5" cy="138.6" r="2.6" fill="#fff" stroke="#111" stroke-width="0.85"/>
<line x1="517.89" y1="140.21" x2="521.11" y2="136.99" stroke="#111" stroke-width="0.85"/>
<line x1="311.7" y1="144.3" x2="522.8" y2="144.3" stroke="#222" stroke-width="1.1" stroke-dasharray="2.9,1.3"/>
<line x1="325.1" y1="134.2" x2="325.1" y2="161.9" stroke="#222" stroke-width="0.9"/>
<line x1="377.4" y1="134.2" x2="377.4" y2="161.9" stroke="#222" stroke-width="0.9"/>
<line x1="391.2" y1="134.2" x2="391.2" y2="161.9" stroke="#222" stroke-width="0.9"/>
<line x1="457.4" y1="134.2" x2="457.4" y2="161.9" stroke="#222" stroke-width="0.9"/>
<line x1="490.0" y1="134.2" x2="490.0" y2="161.9" stroke="#222" stroke-width="0.9"/>
<line x1="338.5" y1="134.2" x2="338.5" y2="157.7" stroke="#222" stroke-width="0.9"/>
<line x1="351.3" y1="134.2" x2="351.3" y2="157.7" stroke="#222" stroke-width="0.9"/>
<line x1="364.3" y1="134.2" x2="364.3" y2="157.7" stroke="#222" stroke-width="0.9"/>
<line x1="404.8" y1="134.2" x2="404.8" y2="157.7" stroke="#222" stroke-width="0.9"/>
<line x1="417.4" y1="134.2" x2="417.4" y2="157.7" stroke="#222" stroke-width="0.9"/>
<line x1="444.3" y1="134.2" x2="444.3" y2="154.4" stroke="#222" stroke-width="0.9"/>
<line x1="430.5" y1="134.2" x2="430.5" y2="161.9" stroke="#222" stroke-width="0.9"/>
<line x1="325.1" y1="157.7" x2="377.4" y2="157.7" stroke="#222" stroke-width="0.8"/>
<line x1="391.2" y1="157.7" x2="430.5" y2="157.7" stroke="#222" stroke-width="0.8"/>
<line x1="430.5" y1="154.4" x2="457.4" y2="154.4" stroke="#222" stroke-width="0.8"/>
<line x1="457.4" y1="153.8" x2="522.8" y2="153.8" stroke="#222" stroke-width="0.8"/>
<line x1="336.9" y1="152.5" x2="336.9" y2="157.7" stroke="#333" stroke-width="0.6"/>
<line x1="326.70000000000005" y1="152.5" x2="326.70000000000005" y2="157.7" stroke="#333" stroke-width="0.6"/>
<line x1="349.7" y1="152.5" x2="349.7" y2="157.7" stroke="#333" stroke-width="0.6"/>
<line x1="340.1" y1="152.5" x2="340.1" y2="157.7" stroke="#333" stroke-width="0.6"/>
<line x1="362.7" y1="152.5" x2="362.7" y2="157.7" stroke="#333" stroke-width="0.6"/>
<line x1="352.90000000000003" y1="152.5" x2="352.90000000000003" y2="157.7" stroke="#333" stroke-width="0.6"/>
<line x1="375.79999999999995" y1="152.5" x2="375.79999999999995" y2="157.7" stroke="#333" stroke-width="0.6"/>
<line x1="365.90000000000003" y1="152.5" x2="365.90000000000003" y2="157.7" stroke="#333" stroke-width="0.6"/>
<line x1="403.2" y1="152.5" x2="403.2" y2="157.7" stroke="#333" stroke-width="0.6"/>
<line x1="392.8" y1="152.5" x2="392.8" y2="157.7" stroke="#333" stroke-width="0.6"/>
<line x1="415.79999999999995" y1="152.5" x2="415.79999999999995" y2="157.7" stroke="#333" stroke-width="0.6"/>
<line x1="406.40000000000003" y1="152.5" x2="406.40000000000003" y2="157.7" stroke="#333" stroke-width="0.6"/>
<line x1="428.9" y1="152.5" x2="428.9" y2="157.7" stroke="#333" stroke-width="0.6"/>
<line x1="419.0" y1="152.5" x2="419.0" y2="157.7" stroke="#333" stroke-width="0.6"/>
<text x="318.4" y="152.6" font-size="3.9" text-anchor="middle" fill="#1e1a38" style="font-weight:bold;" textLength="9.5" lengthAdjust="spacingAndGlyphs">Выход</text>
<text x="318.4" y="158.2" font-size="3.9" text-anchor="middle" fill="#1e1a38" style="font-weight:bold;" textLength="7.5" lengthAdjust="spacingAndGlyphs">+24В</text>
<text x="331.8" y="151" font-size="3.9" text-anchor="middle" fill="#1e1a38" style="font-weight:bold;" textLength="8.8" lengthAdjust="spacingAndGlyphs">Вых 1</text>
<text x="331.8" y="156.6" font-size="3.9" text-anchor="middle" fill="#1e1a38" style="font-weight:bold;" textLength="6.5" lengthAdjust="spacingAndGlyphs">(+/-)</text>
<text x="344.9" y="151" font-size="3.9" text-anchor="middle" fill="#1e1a38" style="font-weight:bold;" textLength="8.8" lengthAdjust="spacingAndGlyphs">Вых 2</text>
<text x="344.9" y="156.6" font-size="3.9" text-anchor="middle" fill="#1e1a38" style="font-weight:bold;" textLength="6.5" lengthAdjust="spacingAndGlyphs">(+/-)</text>
<text x="357.8" y="151" font-size="3.9" text-anchor="middle" fill="#1e1a38" style="font-weight:bold;" textLength="8.8" lengthAdjust="spacingAndGlyphs">Вых 3</text>
<text x="357.8" y="156.6" font-size="3.9" text-anchor="middle" fill="#1e1a38" style="font-weight:bold;" textLength="6.5" lengthAdjust="spacingAndGlyphs">(+/-)</text>
<text x="370.85" y="151" font-size="3.9" text-anchor="middle" fill="#1e1a38" style="font-weight:bold;" textLength="8.8" lengthAdjust="spacingAndGlyphs">Вых 4</text>
<text x="370.85" y="156.6" font-size="3.9" text-anchor="middle" fill="#1e1a38" style="font-weight:bold;" textLength="6.5" lengthAdjust="spacingAndGlyphs">(+/-)</text>
<text x="384.29999999999995" y="152.8" font-size="3.9" text-anchor="middle" fill="#1e1a38" style="font-weight:bold;" textLength="7.5" lengthAdjust="spacingAndGlyphs">Вход</text>
<text x="384.29999999999995" y="158.6" font-size="3.9" text-anchor="middle" fill="#1e1a38" style="font-weight:bold;" textLength="9.5" lengthAdjust="spacingAndGlyphs">неиспр</text>
<text x="398.0" y="151" font-size="3.9" text-anchor="middle" fill="#1e1a38" style="font-weight:bold;" textLength="10" lengthAdjust="spacingAndGlyphs">Тампер</text>
<text x="398.0" y="156.6" font-size="3.9" text-anchor="middle" fill="#1e1a38" style="font-weight:bold;" textLength="6.5" lengthAdjust="spacingAndGlyphs">(+/-)</text>
<text x="411.1" y="151" font-size="3.9" text-anchor="middle" fill="#1e1a38" style="font-weight:bold;" textLength="7" lengthAdjust="spacingAndGlyphs">Пуск</text>
<text x="411.1" y="156.6" font-size="3.9" text-anchor="middle" fill="#1e1a38" style="font-weight:bold;" textLength="6.5" lengthAdjust="spacingAndGlyphs">(+/-)</text>
<text x="423.95" y="151" font-size="3.9" text-anchor="middle" fill="#1e1a38" style="font-weight:bold;" textLength="10" lengthAdjust="spacingAndGlyphs">Тампер</text>
<text x="423.95" y="156.6" font-size="3.9" text-anchor="middle" fill="#1e1a38" style="font-weight:bold;" textLength="6.5" lengthAdjust="spacingAndGlyphs">(+/-)</text>
<text x="437.4" y="151" font-size="3.9" text-anchor="middle" fill="#1e1a38" style="font-weight:bold;" textLength="9" lengthAdjust="spacingAndGlyphs">ДПЛС</text>
<text x="450.85" y="151" font-size="3.9" text-anchor="middle" fill="#1e1a38" style="font-weight:bold;" textLength="9" lengthAdjust="spacingAndGlyphs">ДПЛС</text>
<text x="314.5" y="147.4" font-size="2.8" text-anchor="middle" fill="#6a6a9a" style="">+</text>
<text x="321.3" y="147.4" font-size="2.8" text-anchor="middle" fill="#6a6a9a" style="">+</text>
<text x="327.7" y="147.4" font-size="2.8" text-anchor="middle" fill="#6a6a9a" style="">+</text>
<text x="334.3" y="147.4" font-size="2.8" text-anchor="middle" fill="#6a6a9a" style="">+</text>
<text x="341" y="147.4" font-size="2.8" text-anchor="middle" fill="#6a6a9a" style="">-</text>
<text x="347.5" y="147.4" font-size="2.8" text-anchor="middle" fill="#6a6a9a" style="">+</text>
<text x="354" y="147.4" font-size="2.8" text-anchor="middle" fill="#6a6a9a" style="">-</text>
<text x="360.6" y="147.4" font-size="2.8" text-anchor="middle" fill="#6a6a9a" style="">-</text>
<text x="367.3" y="147.4" font-size="2.8" text-anchor="middle" fill="#6a6a9a" style="">+</text>
<text x="374" y="147.4" font-size="2.8" text-anchor="middle" fill="#6a6a9a" style="">-</text>
<text x="380.6" y="147.4" font-size="2.8" text-anchor="middle" fill="#6a6a9a" style="">-</text>
<text x="387.3" y="147.4" font-size="2.8" text-anchor="middle" fill="#6a6a9a" style="">+</text>
<text x="393.9" y="147.4" font-size="2.8" text-anchor="middle" fill="#6a6a9a" style="">+</text>
<text x="400.5" y="147.4" font-size="2.8" text-anchor="middle" fill="#6a6a9a" style="">+</text>
<text x="407.2" y="147.4" font-size="2.8" text-anchor="middle" fill="#6a6a9a" style="">-</text>
<text x="413.8" y="147.4" font-size="2.8" text-anchor="middle" fill="#6a6a9a" style="">-</text>
<text x="420.5" y="147.4" font-size="2.8" text-anchor="middle" fill="#6a6a9a" style="">+</text>
<text x="427.1" y="147.4" font-size="2.8" text-anchor="middle" fill="#6a6a9a" style="">+</text>
<text x="433.7" y="147.4" font-size="2.8" text-anchor="middle" fill="#6a6a9a" style="">+</text>
<text x="440.3" y="147.4" font-size="2.8" text-anchor="middle" fill="#6a6a9a" style="">+</text>
<text x="447" y="147.4" font-size="2.8" text-anchor="middle" fill="#6a6a9a" style="">-</text>
<text x="453.6" y="147.4" font-size="2.8" text-anchor="middle" fill="#6a6a9a" style="">-</text>
<text x="351.3" y="161.4" font-size="3.9" text-anchor="middle" fill="#1e1a38" style="" textLength="40.7" lengthAdjust="spacingAndGlyphs">Контролируемые выходы</text>
<text x="410.8" y="161.4" font-size="3.9" text-anchor="middle" fill="#1e1a38" style="" textLength="31" lengthAdjust="spacingAndGlyphs">Вых. без контроля</text>
<text x="444" y="160.3" font-size="3.9" text-anchor="middle" fill="#1e1a38" style="" textLength="13" lengthAdjust="spacingAndGlyphs">ДПЛС 1</text>
<text x="473.2" y="158.9" font-size="3.9" text-anchor="middle" fill="#1e1a38" style="" textLength="28.4" lengthAdjust="spacingAndGlyphs">RS-485 (приборы)</text>
<text x="507.7" y="158.9" font-size="3.9" text-anchor="middle" fill="#1e1a38" style="" textLength="25.6" lengthAdjust="spacingAndGlyphs">RS-485 (ППКОП)</text>
<text x="460.5" y="147.6" font-size="2.6" text-anchor="middle" fill="#556" style="">A</text>
<text x="466.5" y="147.6" font-size="2.6" text-anchor="middle" fill="#556" style="">B</text>
<text x="480" y="147.6" font-size="2.6" text-anchor="middle" fill="#556" style="">A</text>
<text x="486.5" y="147.6" font-size="2.6" text-anchor="middle" fill="#556" style="">B</text>
<text x="493.5" y="147.6" font-size="2.6" text-anchor="middle" fill="#556" style="">A</text>
<text x="499.5" y="147.6" font-size="2.6" text-anchor="middle" fill="#556" style="">B</text>
<text x="513" y="147.6" font-size="2.6" text-anchor="middle" fill="#556" style="">A</text>
<text x="519.5" y="147.6" font-size="2.6" text-anchor="middle" fill="#556" style="">B</text>
<text x="474.5" y="152.5" font-size="2.6" text-anchor="start" fill="#556" style="" transform="rotate(-90 474.5 152.5)">GND</text>
<text x="507.5" y="152.5" font-size="2.6" text-anchor="start" fill="#556" style="" transform="rotate(-90 507.5 152.5)">GND</text>
<line x1="466.6" y1="89.2" x2="552" y2="89.2" stroke="#222" stroke-width="0.9"/>
<line x1="466.6" y1="89.2" x2="466.6" y2="131" stroke="#444" stroke-width="0.9"/>
<line x1="480.5" y1="96.7" x2="552" y2="96.7" stroke="#a8a8a8" stroke-width="1.6"/>
<line x1="480.5" y1="96.7" x2="480.5" y2="112" stroke="#333" stroke-width="0.9"/>
<line x1="487.3" y1="50.8" x2="573" y2="50.8" stroke="#222" stroke-width="0.8"/>
<line x1="487.3" y1="50.8" x2="483.2" y2="95.6" stroke="#222" stroke-width="0.7"/>
<line x1="487.3" y1="50.8" x2="500.8" y2="89.2" stroke="#222" stroke-width="0.7"/>
<text x="491.6" y="17.6" font-size="4.9" text-anchor="start" fill="#33334a" style="font-style:italic;" textLength="75.4" lengthAdjust="spacingAndGlyphs">RS'13(1) RS'13(2) 2хКСБ НнгА(А)-FRHF</text>
<text x="491.6" y="22.6" font-size="4.9" text-anchor="start" fill="#33334a" style="font-style:italic;" textLength="21" lengthAdjust="spacingAndGlyphs">2х2х0,8 мм</text>
<text x="491.6" y="28.9" font-size="4.9" text-anchor="start" fill="#33334a" style="font-style:italic;" textLength="69.5" lengthAdjust="spacingAndGlyphs">в металлорукаве Р3-Ц-15 - 6 м</text>
<text x="491.6" y="35.2" font-size="4.9" text-anchor="start" fill="#33334a" style="font-style:italic;" textLength="37" lengthAdjust="spacingAndGlyphs">на тросах - 30 м</text>
<text x="491.6" y="41.6" font-size="4.9" text-anchor="start" fill="#33334a" style="font-style:italic;" textLength="68" lengthAdjust="spacingAndGlyphs">в кабельных каналах 25х16 -5 м</text>
<text x="491.6" y="47.5" font-size="4.9" text-anchor="start" fill="#33334a" style="font-style:italic;" textLength="52" lengthAdjust="spacingAndGlyphs">из электрощитовой МСС</text>
<polyline points="463.9,112 457.3,118.2 457.3,131.6 460,134.2" fill="none" stroke="#ee3b3b" stroke-width="0.7"/>
<polyline points="466.6,112 460.3,118.2 460.3,134.2" fill="none" stroke="#ee3b3b" stroke-width="0.7"/>
<line x1="463.9" y1="112" x2="463.9" y2="131" stroke="#9a9a9a" stroke-width="0.8"/>
<polyline points="463.9,131 466.4,134.2" fill="none" stroke="#9a9a9a" stroke-width="0.7"/>
<polyline points="466.6,112 473.7,118.2 473.7,134.2" fill="none" stroke="#4aa0ea" stroke-width="0.7"/>
<polyline points="480.5,112 473.7,118.2" fill="none" stroke="#4aa0ea" stroke-width="0.7"/>
<line x1="480.5" y1="112" x2="480.5" y2="134.2" stroke="#ee3b3b" stroke-width="0.7"/>
<polyline points="480.5,112 487.3,118.2 487.3,134.2" fill="none" stroke="#333" stroke-width="0.7"/>
<text x="295" y="279.4" font-size="9" text-anchor="start" fill="#2a2a46" style="font-style:italic;" textLength="49.2" lengthAdjust="spacingAndGlyphs">ППКУП "Сириус"</text>
<text x="295.6" y="288.4" font-size="9" text-anchor="start" fill="#2a2a46" style="font-style:italic;" textLength="48.4" lengthAdjust="spacingAndGlyphs">ARK в адр. 11,12</text>
</svg>
</body></html>
